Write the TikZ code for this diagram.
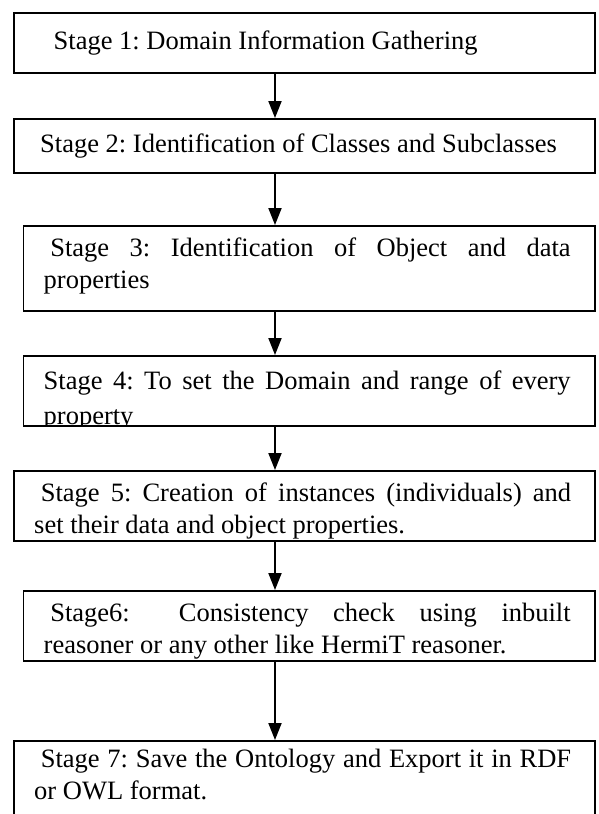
\documentclass[tikz,border=0pt]{standalone}
\usepackage{fontspec}
\setmainfont{Liberation Serif}
\usetikzlibrary{arrows.meta}
\hbadness=10000
\tolerance=10000
\frenchspacing
\tikzset{
  stagebox/.style={draw=black, line width=1.6pt, anchor=north west, inner sep=0pt},
  stagetext/.style={font=\fontsize{26.5pt}{32pt}\selectfont\frenchspacing, inner sep=0pt, anchor=base west},
  stagepar/.style={stagetext, align=justify, text width=#1},
  flow/.style={line width=2pt, -{Triangle[length=17pt,width=13pt]}}
}
\begin{document}
\begin{tikzpicture}[x=1pt,y=-1pt]
\clip (0,0) rectangle (598,814);
\fill[white] (0,0) rectangle (598,814);
\coordinate (ax) at (275,0);
% boxes
\node[stagebox, minimum width=581pt, minimum height=60pt] (b1) at (13,12) {};
\node[stagebox, minimum width=581pt, minimum height=54pt] (b2) at (13,118) {};
\node[stagebox, minimum width=571.5pt, minimum height=85pt] (b3) at (22.5,225) {};
\node[stagebox, minimum width=571.5pt, minimum height=70pt] (b4) at (22.5,355) {};
\node[stagebox, minimum width=581pt, minimum height=70pt] (b5) at (13,470) {};
\node[stagebox, minimum width=571.5pt, minimum height=70pt] (b6) at (22.5,590) {};
\node[stagebox, minimum width=581pt, minimum height=120pt] (b7) at (13,740) {};
% texts
\node[stagetext] (t1) at (53.5,49) {Stage 1: Domain Information Gathering};
\node[stagetext] (t2) at (40,152) {Stage 2: Identification of Classes and Subclasses};
\node[stagepar=527pt] (t3) at (43.5,256) {\hspace*{0.25em}Stage 3: Identification of Object and data\linebreak properties};
\begin{scope}
  \clip (b4.north west) rectangle (b4.south east);
  \node[stagepar=527pt, font=\fontsize{26.5pt}{35pt}\selectfont\frenchspacing] (t4) at (43.5,389) {Stage 4: To set the Domain and range of every\linebreak property};
\end{scope}
\node[stagepar=537pt] (t5) at (34,501) {\hspace*{0.25em}Stage 5: Creation of instances (individuals) and\linebreak set their data and object properties.};
\node[stagepar=527pt] (t6) at (43.5,621) {\hspace*{0.25em}Stage6:\ \ Consistency check using inbuilt\linebreak reasoner or any other like HermiT reasoner.};
\node[stagepar=537pt] (t7) at (34,767) {\hspace*{0.25em}Stage 7: Save the Ontology and Export it in RDF\linebreak or OWL format.};
% arrows
\draw[flow] (b1.south -| ax) -- (b2.north -| ax);
\draw[flow] (b2.south -| ax) -- (b3.north -| ax);
\draw[flow] (b3.south -| ax) -- (b4.north -| ax);
\draw[flow] (b4.south -| ax) -- (b5.north -| ax);
\draw[flow] (b5.south -| ax) -- (b6.north -| ax);
\draw[flow] (b6.south -| ax) -- (b7.north -| ax);
\end{tikzpicture}
\end{document}
